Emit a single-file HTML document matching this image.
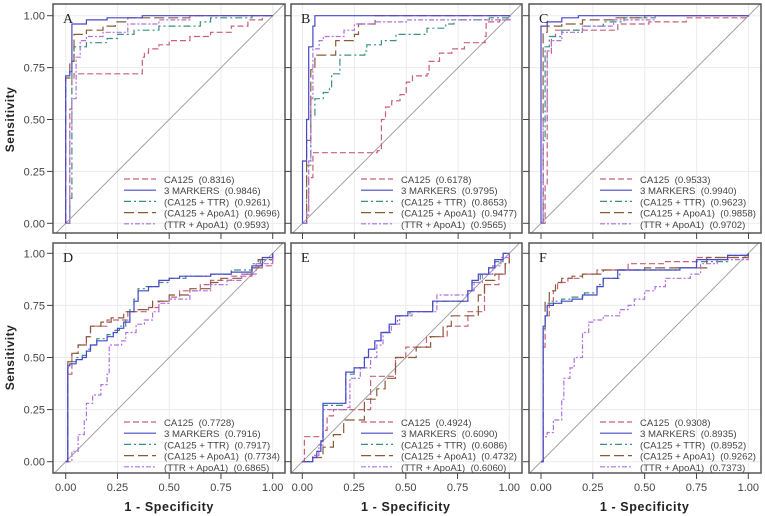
<!DOCTYPE html>
<html><head><meta charset="utf-8"><style>
html,body{margin:0;padding:0;background:#fff;}
svg{display:block;font-family:"Liberation Sans",sans-serif;}
</style></head><body>
<svg id="chart" width="765" height="516" viewBox="0 0 765 516" xmlns="http://www.w3.org/2000/svg"></svg>
<script>
// ---- data ----
const seriesNames = ["CA125","3 MARKERS","(CA125 + TTR)","(CA125 + ApoA1)","(TTR + ApoA1)"];
const panelLetters = ["A","B","C","D","E","F"];
const tickValues = [0,0.25,0.5,0.75,1];
const tickLabels = ["0.00","0.25","0.50","0.75","1.00"];

const aucA = ["0.8316","0.9846","0.9261","0.9696","0.9593"];
const aucB = ["0.6178","0.9795","0.8653","0.9477","0.9565"];
const aucC = ["0.9533","0.9940","0.9623","0.9858","0.9702"];
const aucD = ["0.7728","0.7916","0.7917","0.7734","0.6865"];
const aucE = ["0.4924","0.6090","0.6086","0.4732","0.6060"];
const aucF = ["0.9308","0.8935","0.8952","0.9262","0.7373"];

// Panel A
const A_ca125_x=[0,0.02,0.03,0.04,0.37,0.38,0.40,0.45,0.5,0.6,0.7,0.8,0.88,0.95,1];
const A_ca125_y=[0,0.55,0.70,0.72,0.80,0.82,0.84,0.86,0.88,0.90,0.92,0.95,0.98,1,1];
const A_m3_x=[0,0,0.02,0.03,0.1,0.2,0.37,1];
const A_m3_y=[0,0.71,0.73,0.96,0.98,0.99,1,1];
const A_ttr_x=[0,0.02,0.03,0.04,0.1,0.2,0.25,0.33,0.45,0.65,0.7,0.9,1];
const A_ttr_y=[0,0.12,0.78,0.85,0.87,0.89,0.91,0.93,0.95,0.97,0.99,1,1];
const A_apo_x=[0,0,0.02,0.04,0.1,0.18,0.24,0.3,0.5,0.6,1];
const A_apo_y=[0,0.70,0.78,0.91,0.93,0.95,0.97,0.99,0.99,1,1];
const A_ta_x=[0,0.02,0.03,0.05,0.07,0.1,0.18,0.3,0.45,0.6,1];
const A_ta_y=[0,0.45,0.60,0.80,0.88,0.90,0.92,0.96,0.98,1,1];
// Panel B
const B_ca125_x=[0,0.02,0.03,0.05,0.36,0.38,0.4,0.43,0.47,0.5,0.53,0.6,0.61,0.66,0.72,0.78,0.88,0.885,0.95,1];
const B_ca125_y=[0,0.04,0.22,0.34,0.35,0.5,0.56,0.59,0.62,0.68,0.71,0.72,0.78,0.82,0.84,0.87,0.9,0.97,0.98,1];
const B_m3_x=[0,0,0.02,0.03,0.05,0.06,1];
const B_m3_y=[0,0.3,0.5,0.85,0.95,1,1];
const B_ttr_x=[0,0.02,0.04,0.06,0.1,0.13,0.14,0.18,0.18,0.3,0.31,0.38,0.45,0.6,0.69,0.73,0.9,1];
const B_ttr_y=[0,0.28,0.52,0.6,0.63,0.65,0.72,0.75,0.81,0.83,0.86,0.88,0.91,0.94,0.96,0.98,0.99,1];
const B_apo_x=[0,0.02,0.04,0.06,0.16,0.16,0.25,0.27,0.35,0.35,1];
const B_apo_y=[0,0.4,0.74,0.81,0.82,0.88,0.91,0.96,0.98,1,1];
const B_ta_x=[0,0.02,0.03,0.04,0.05,0.08,0.1,0.2,0.25,0.35,0.5,1];
const B_ta_y=[0,0.06,0.3,0.6,0.84,0.88,0.9,0.93,0.96,0.97,0.98,1];
// Panel C
const C_ca125_x=[0,0.02,0.03,0.05,0.07,0.35,0.37,0.52,0.7,1];
const C_ca125_y=[0,0.18,0.82,0.9,0.93,0.93,0.96,0.97,0.99,1];
const C_m3_x=[0,0,0.03,0.1,0.18,1];
const C_m3_y=[0,0.95,0.97,0.99,1,1];
const C_ttr_x=[0,0.01,0.02,0.04,0.1,0.2,0.3,0.4,0.55,1];
const C_ttr_y=[0,0.4,0.85,0.9,0.93,0.95,0.97,0.99,1,1];
const C_apo_x=[0,0.01,0.03,0.1,0.2,0.35,0.5,1];
const C_apo_y=[0,0.92,0.95,0.96,0.98,0.99,1,1];
const C_ta_x=[0,0.01,0.03,0.05,0.1,0.2,0.35,0.55,1];
const C_ta_y=[0,0.5,0.83,0.88,0.92,0.95,0.98,1,1];
// Panel D
const D_ca125_x=[0,0.01,0.03,0.06,0.1,0.12,0.2,0.3,0.4,0.45,0.5,0.55,0.65,0.7,0.8,0.9,0.95,1,1];
const D_ca125_y=[0,0.42,0.52,0.56,0.6,0.65,0.68,0.72,0.74,0.77,0.79,0.82,0.85,0.87,0.89,0.93,0.94,0.94,1];
const D_m3_x=[0,0.01,0.02,0.05,0.08,0.1,0.12,0.15,0.2,0.23,0.25,0.28,0.31,0.33,0.35,0.4,0.45,0.5,0.55,0.7,0.8,0.9,0.95,1];
const D_m3_y=[0,0.46,0.47,0.49,0.5,0.53,0.56,0.58,0.6,0.62,0.64,0.67,0.72,0.77,0.82,0.84,0.87,0.88,0.89,0.9,0.91,0.94,0.98,1];
const D_ttr_x=[0,0.01,0.02,0.05,0.08,0.1,0.12,0.15,0.2,0.23,0.26,0.29,0.31,0.33,0.35,0.38,0.45,0.5,0.58,0.7,0.8,0.9,0.94,1];
const D_ttr_y=[0,0.45,0.48,0.5,0.51,0.54,0.56,0.59,0.61,0.63,0.65,0.68,0.73,0.78,0.83,0.84,0.86,0.88,0.89,0.9,0.92,0.95,0.97,1];
const D_apo_x=[0,0.01,0.03,0.06,0.1,0.12,0.17,0.22,0.28,0.35,0.4,0.42,0.5,0.6,0.7,0.75,0.85,0.9,0.93,1];
const D_apo_y=[0,0.48,0.52,0.56,0.6,0.65,0.67,0.69,0.72,0.73,0.74,0.77,0.8,0.83,0.86,0.88,0.9,0.93,0.97,1];
const D_ta_x=[0,0.03,0.06,0.09,0.1,0.13,0.17,0.2,0.21,0.27,0.29,0.34,0.38,0.42,0.45,0.5,0.6,0.7,0.78,0.85,0.92,1];
const D_ta_y=[0,0.05,0.13,0.2,0.28,0.32,0.37,0.42,0.56,0.58,0.62,0.66,0.68,0.72,0.76,0.78,0.82,0.85,0.87,0.9,0.95,1];
// Panel E
const E_ca125_x=[0,0.01,0.1,0.12,0.15,0.33,0.33,0.45,0.5,0.6,0.7,0.8,0.88,0.88,0.95,0.98,1];
const E_ca125_y=[0,0.12,0.15,0.22,0.25,0.3,0.41,0.5,0.55,0.6,0.65,0.72,0.72,0.85,0.9,0.95,1];
const E_m3_x=[0,0.05,0.07,0.09,0.1,0.2,0.21,0.25,0.3,0.32,0.35,0.38,0.42,0.45,0.51,0.63,0.8,0.82,0.85,0.9,0.93,0.97,1];
const E_m3_y=[0,0.02,0.05,0.1,0.28,0.28,0.43,0.45,0.5,0.54,0.58,0.62,0.66,0.7,0.72,0.77,0.82,0.87,0.9,0.93,0.97,1,1];
const E_ttr_x=[0,0.05,0.07,0.09,0.1,0.2,0.21,0.25,0.3,0.32,0.35,0.38,0.42,0.46,0.52,0.63,0.8,0.82,0.86,0.9,0.93,0.97,1];
const E_ttr_y=[0,0.02,0.05,0.1,0.27,0.28,0.42,0.45,0.5,0.54,0.58,0.62,0.66,0.7,0.72,0.77,0.82,0.86,0.9,0.93,0.96,1,1];
const E_apo_x=[0,0.05,0.1,0.15,0.2,0.3,0.36,0.4,0.45,0.55,0.62,0.68,0.72,0.85,0.88,0.93,0.98,1];
const E_apo_y=[0,0.02,0.07,0.13,0.2,0.3,0.35,0.4,0.5,0.55,0.6,0.65,0.7,0.8,0.87,0.9,0.95,1];
const E_ta_x=[0,0.05,0.08,0.1,0.22,0.23,0.28,0.33,0.36,0.39,0.43,0.47,0.53,0.65,0.8,0.83,0.87,0.92,0.96,1];
const E_ta_y=[0,0.03,0.08,0.25,0.26,0.4,0.45,0.5,0.56,0.62,0.66,0.7,0.72,0.8,0.82,0.86,0.9,0.94,0.98,1];
// Panel F
const F_ca125_x=[0,0.01,0.02,0.04,0.06,0.08,0.13,0.2,0.27,0.42,0.6,0.75,1];
const F_ca125_y=[0,0.55,0.7,0.77,0.82,0.86,0.88,0.9,0.92,0.95,0.96,0.98,1];
const F_m3_x=[0,0.01,0.02,0.03,0.06,0.1,0.15,0.2,0.27,0.3,0.37,0.5,0.67,0.75,0.9,1];
const F_m3_y=[0,0.65,0.7,0.75,0.76,0.77,0.78,0.8,0.84,0.88,0.92,0.92,0.93,0.97,0.99,1];
const F_ttr_x=[0,0.01,0.02,0.03,0.06,0.1,0.15,0.21,0.27,0.3,0.38,0.5,0.66,0.75,0.9,1];
const F_ttr_y=[0,0.64,0.7,0.76,0.77,0.78,0.79,0.81,0.85,0.88,0.92,0.92,0.93,0.96,0.99,1];
const F_apo_x=[0,0.01,0.02,0.04,0.07,0.1,0.15,0.2,0.3,0.5,0.65,0.8,1];
const F_apo_y=[0,0.65,0.77,0.82,0.86,0.88,0.89,0.9,0.92,0.93,0.93,0.98,1];
const F_ta_x=[0,0.01,0.03,0.06,0.1,0.11,0.14,0.16,0.2,0.23,0.25,0.3,0.38,0.42,0.45,0.5,0.55,0.6,0.72,0.77,0.85,1];
const F_ta_y=[0,0.12,0.14,0.2,0.3,0.4,0.45,0.5,0.62,0.67,0.68,0.7,0.73,0.75,0.78,0.82,0.84,0.88,0.9,0.95,0.97,1];

// ---- layout / style (not data) ----
const NS="http://www.w3.org/2000/svg";
const svg=document.getElementById('chart');
const colors=["#c86078","#4848c8","#3a9080","#8a5a38","#b070e0"];
const dashes=["6,3","","7,3,2,3","10,4","5,2,2,2"];
const panels=[
 {bx:53,bw:232,by:4,bh:229,x0:65.7,x1:272.7,y1:15.7,y0:223.3,auc:aucA,data:[[A_ca125_x,A_ca125_y],[A_m3_x,A_m3_y],[A_ttr_x,A_ttr_y],[A_apo_x,A_apo_y],[A_ta_x,A_ta_y]],lgOff:-54},
 {bx:291,bw:231,by:4,bh:229,x0:302.5,x1:510,y1:15.7,y0:223.3,auc:aucB,data:[[B_ca125_x,B_ca125_y],[B_m3_x,B_m3_y],[B_ttr_x,B_ttr_y],[B_apo_x,B_apo_y],[B_ta_x,B_ta_y]],lgOff:-54},
 {bx:529,bw:232,by:4,bh:229,x0:541,x1:748.5,y1:15.7,y0:223.3,auc:aucC,data:[[C_ca125_x,C_ca125_y],[C_m3_x,C_m3_y],[C_ttr_x,C_ttr_y],[C_apo_x,C_apo_y],[C_ta_x,C_ta_y]],lgOff:-54},
 {bx:53,bw:232,by:243,bh:230,x0:65.7,x1:272.7,y1:253.3,y0:461.7,auc:aucD,data:[[D_ca125_x,D_ca125_y],[D_m3_x,D_m3_y],[D_ttr_x,D_ttr_y],[D_apo_x,D_apo_y],[D_ta_x,D_ta_y]],lgOff:-51},
 {bx:291,bw:231,by:243,bh:230,x0:302.3,x1:509.3,y1:253.3,y0:461.7,auc:aucE,data:[[E_ca125_x,E_ca125_y],[E_m3_x,E_m3_y],[E_ttr_x,E_ttr_y],[E_apo_x,E_apo_y],[E_ta_x,E_ta_y]],lgOff:-51},
 {bx:529,bw:232,by:243,bh:230,x0:541,x1:748.3,y1:253.3,y0:461.7,auc:aucF,data:[[F_ca125_x,F_ca125_y],[F_m3_x,F_m3_y],[F_ttr_x,F_ttr_y],[F_apo_x,F_apo_y],[F_ta_x,F_ta_y]],lgOff:-51}
];
function mk(tag,attrs,parent){const e=document.createElementNS(NS,tag);for(const k in attrs)e.setAttribute(k,attrs[k]);(parent||svg).appendChild(e);return e;}

panels.forEach((p,pi)=>{
  const sx=v=>p.x0+(p.x1-p.x0)*v;
  const sy=v=>p.y0-(p.y0-p.y1)*v;
  const g=mk('g',{});
  
  
  const cid='clip'+pi;
  const cp=mk('clipPath',{id:cid},g);
  mk('rect',{x:p.bx,y:p.by,width:p.bw,height:p.bh},cp);
  tickValues.forEach(t=>{
    const gl=mk('line',{x1:sx(t),x2:sx(t),y1:p.by,y2:p.by+p.bh,stroke:'#ebebeb','stroke-width':1},g);
    
    
    const gl2=mk('line',{x1:p.bx,x2:p.bx+p.bw,y1:sy(t),y2:sy(t),stroke:'#ebebeb','stroke-width':1},g);
    
    
  });
  const dg=mk('line',{x1:sx(-0.07),y1:sy(-0.07),x2:sx(1.07),y2:sy(1.07),stroke:'#999','stroke-width':0.9,'clip-path':'url(#'+cid+')'},g);
  
  
  [0,2,3,4,1].forEach(si=>{
    const xs=p.data[si][0], ys=p.data[si][1];
    let d='M'+sx(xs[0]).toFixed(1)+','+sy(ys[0]).toFixed(1);
    for(let i=1;i<xs.length;i++){d+=' H'+sx(xs[i]).toFixed(1)+' V'+sy(ys[i]).toFixed(1);}
    const path=mk('path',{d:d,fill:'none',stroke:colors[si],'stroke-width':1.2,'stroke-dasharray':dashes[si]||'none'},g);
    
    
  });
  const bx=mk('rect',{x:p.bx,y:p.by,width:p.bw,height:p.bh,fill:'none',stroke:'#555','stroke-width':1.5},g);
  
  
  const lt=mk('text',{x:p.bx+10,y:p.by+19,'font-family':'"Liberation Serif",serif','font-size':14,fill:'#222'},g);
  lt.textContent=panelLetters[pi];
  
  
  tickValues.forEach((t,ti)=>{
    const tx=mk('line',{x1:sx(t),x2:sx(t),y1:p.by+p.bh,y2:p.by+p.bh+6,stroke:'#444','stroke-width':1},g);
    
    
    const ty=mk('line',{x1:p.bx-6,x2:p.bx,y1:sy(t),y2:sy(t),stroke:'#444','stroke-width':1},g);
    
    
    if(pi%3===0){
      const yl=mk('text',{x:p.bx-8,y:sy(t)+4,'text-anchor':'end','font-size':11,fill:'#444'},g);
      yl.textContent=tickLabels[ti];
      
      
    }
    if(pi>=3){
      const xl=mk('text',{x:sx(t),y:491,'text-anchor':'middle','font-size':11,fill:'#444'},g);
      xl.textContent=tickLabels[ti];
      
      
    }
  });
  const lg=mk('g',{},g);
  
  
  const tx0=p.bx+p.bw-121;
  seriesNames.forEach((n,si)=>{
    const cy=p.by+p.bh+p.lgOff+11.2*si;
    const ln=mk('line',{x1:tx0-40,x2:tx0-8,y1:cy,y2:cy,stroke:colors[si],'stroke-width':1.2,'stroke-dasharray':dashes[si]||'none'},lg);
    
    
    const tt=mk('text',{x:tx0,y:cy+4,'font-size':9.6,fill:'#444','xml:space':'preserve'},lg);
    tt.style.whiteSpace='pre';
    tt.textContent=n+'  ('+p.auc[si]+')';
    
    
  });
  if(pi>=3){
    const xt=mk('text',{x:(p.x0+p.x1)/2,y:511,'text-anchor':'middle','font-size':12.5,'font-weight':'bold',fill:'#222','letter-spacing':'0.6'},g);
    xt.textContent='1 - Specificity';
    
    
  }
  if(pi%3===0){
    const cyy=(p.y0+p.y1)/2;
    const yt=mk('text',{x:14,y:cyy,'text-anchor':'middle','font-size':12,'font-weight':'bold',fill:'#222',transform:'rotate(-90 14 '+cyy+')','letter-spacing':'0.5'},g);
    yt.textContent='Sensitivity';
    
    
  }
});
</script>
</body></html>
